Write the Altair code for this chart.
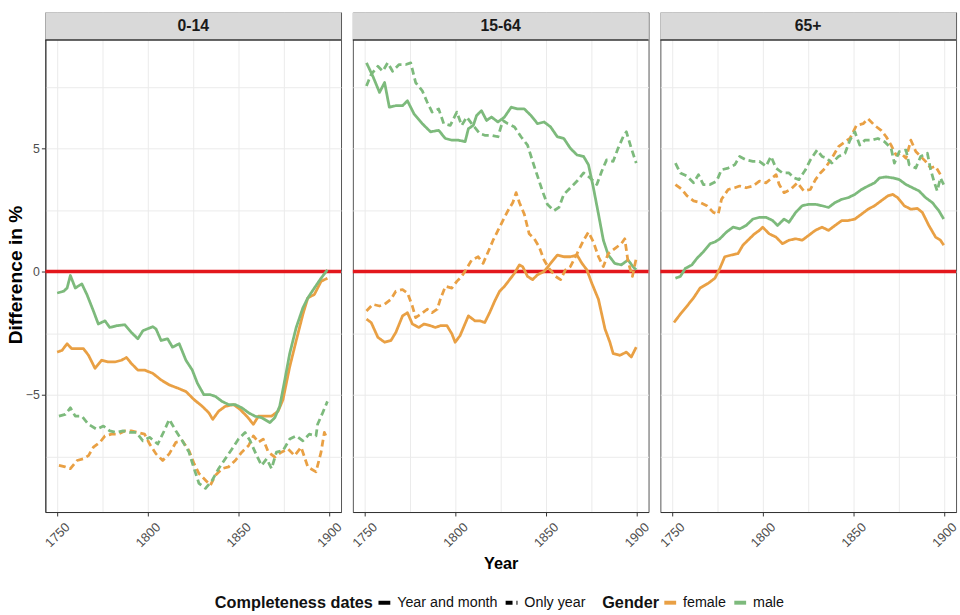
import altair as alt
import pandas as pd

# ---------------- data ----------------
PANELS = ["0-14", "15-64", "65+"]
GENDERS = ["female", "male"]
COMPLETENESS = ["Year and month", "Only year"]

# 0-14
P1_FEMALE_YM = [(1750,-3.27),(1752.7,-3.2),(1755.5,-2.93),(1758,-3.13),(1761.8,-3.13),(1764.5,-3.13),(1767.3,-3.4),(1770.9,-3.93),(1774.5,-3.6),(1778.2,-3.67),(1781.8,-3.67),(1785.5,-3.6),(1788.2,-3.49),(1790.9,-3.73),(1794.5,-4.0),(1798.2,-4.0),(1802.7,-4.13),(1807.3,-4.4),(1811.8,-4.6),(1816.4,-4.73),(1821,-4.87),(1825.5,-5.2),(1830,-5.47),(1833.6,-5.73),(1835.8,-6.0),(1839,-5.67),(1842.7,-5.47),(1847.3,-5.4),(1850.9,-5.6),(1854.5,-5.87),(1858.2,-6.2),(1861,-5.87),(1864.5,-5.87),(1868.2,-5.87),(1871.8,-5.67),(1874.5,-5.2),(1878.2,-3.87),(1881.8,-2.8),(1885.5,-1.73),(1888.2,-1.07),(1891.8,-0.93),(1895.5,-0.4),(1899,-0.27)]
P1_MALE_YM = [(1750,-0.87),(1753.6,-0.8),(1755.5,-0.67),(1757.3,-0.16),(1760,-0.67),(1763.6,-0.5),(1766.4,-0.93),(1770,-1.6),(1772.7,-2.13),(1776.4,-2.0),(1779,-2.27),(1782.7,-2.2),(1787.3,-2.16),(1790.9,-2.47),(1794.5,-2.73),(1797.3,-2.4),(1802.7,-2.24),(1804.5,-2.33),(1807.3,-2.8),(1810.9,-2.73),(1813.6,-3.07),(1817.3,-2.93),(1821,-3.6),(1824.5,-4.0),(1827.3,-4.53),(1830.9,-5.0),(1834.5,-5.0),(1837.3,-5.07),(1840.9,-5.27),(1844.5,-5.4),(1848.2,-5.4),(1851.8,-5.53),(1855.5,-5.73),(1859,-5.87),(1862.7,-5.93),(1867.3,-6.13),(1870,-5.93),(1872.7,-5.47),(1875.5,-4.4),(1878.2,-3.33),(1881.8,-2.27),(1885.5,-1.47),(1888.2,-1.07),(1891.8,-0.67),(1895.5,-0.27),(1899,0.07)]
P1_FEMALE_Y = [(1751,-7.87),(1754.5,-7.93),(1757.3,-8.0),(1761,-7.67),(1764.5,-7.6),(1767.3,-7.47),(1770,-7.13),(1773.6,-6.93),(1776.4,-6.67),(1780,-6.6),(1783.6,-6.6),(1787.3,-6.47),(1790.9,-6.47),(1794.5,-6.53),(1798.2,-6.6),(1801,-7.0),(1804.5,-7.4),(1808.2,-7.67),(1811.8,-7.4),(1815.5,-6.93),(1819,-6.87),(1822.7,-7.27),(1825.5,-7.8),(1828.2,-8.2),(1831.8,-8.47),(1834.5,-8.67),(1837.3,-8.27),(1840.9,-8.0),(1844.5,-7.93),(1848.2,-7.67),(1851.8,-7.33),(1855.5,-7.07),(1858.2,-6.67),(1861,-6.93),(1863.6,-6.8),(1866.4,-7.33),(1870,-7.53),(1873.6,-7.33),(1877.3,-7.2),(1880.9,-7.47),(1884.5,-7.13),(1888.2,-7.93),(1892.7,-8.13),(1895.5,-7.33),(1897.3,-6.53),(1899,-6.8)]
P1_MALE_Y = [(1751,-5.87),(1754.5,-5.8),(1757.3,-5.53),(1760,-5.87),(1763.6,-5.87),(1767.3,-6.2),(1771.8,-6.4),(1775.5,-6.27),(1779,-6.47),(1782.7,-6.53),(1786.4,-6.47),(1790,-6.53),(1793.6,-6.53),(1797.3,-6.87),(1801,-6.73),(1805.5,-7.0),(1809,-6.47),(1811.8,-6.0),(1815.5,-6.47),(1819,-6.87),(1822.7,-7.33),(1825.5,-8.0),(1828.2,-8.6),(1831.8,-8.8),(1835.5,-8.47),(1839,-8.0),(1842.7,-7.6),(1846.4,-7.2),(1850,-6.8),(1853.6,-6.53),(1856.4,-6.87),(1860,-7.47),(1862.7,-7.87),(1865.5,-7.6),(1868.2,-8.0),(1870.9,-7.33),(1874.5,-7.27),(1878.2,-6.8),(1881.8,-6.67),(1885.5,-6.87),(1889,-6.6),(1892.7,-6.67),(1893.6,-6.2),(1896.4,-5.73),(1899,-5.27)]

# 15-64
P2_FEMALE_YM = [(1751,-1.93),(1753.6,-2.07),(1757.3,-2.67),(1761,-2.87),(1764.5,-2.8),(1767.2,-2.47),(1770.9,-1.8),(1773.6,-1.67),(1776.3,-2.13),(1779.9,-2.27),(1782.7,-2.13),(1786.3,-2.2),(1789,-2.27),(1791.7,-2.2),(1795.4,-2.2),(1798.1,-2.53),(1799.9,-2.87),(1802.6,-2.6),(1807.2,-1.8),(1810.8,-2.0),(1813.5,-2.0),(1816.2,-2.07),(1818.9,-1.67),(1821.7,-1.2),(1824.4,-0.8),(1827.1,-0.6),(1829.9,-0.33),(1832.6,-0.07),(1835.3,0.27),(1837.1,0.2),(1839.8,-0.2),(1842.6,-0.33),(1845.3,-0.13),(1848.9,0.0),(1852.5,0.33),(1856.2,0.67),(1859.8,0.6),(1863.4,0.6),(1867.1,0.67),(1869.8,0.33),(1872.5,0.07),(1875.2,-0.47),(1878.9,-1.13),(1882.5,-2.33),(1885.2,-2.87),(1887,-3.33),(1890.7,-3.4),(1894.3,-3.27),(1897,-3.47),(1899.7,-3.07)]
P2_MALE_YM = [(1751,8.47),(1754.5,7.93),(1758.2,7.27),(1761,7.67),(1763.6,6.67),(1767.2,6.73),(1770.9,6.73),(1773.6,6.93),(1777.2,6.4),(1781.8,6.0),(1786.3,5.67),(1790.8,5.73),(1794.5,5.4),(1798.1,5.33),(1801.7,5.33),(1805.4,5.27),(1807.2,5.8),(1809.9,5.93),(1811.7,6.33),(1814.4,6.53),(1817.2,6.13),(1819.9,6.27),(1823.5,6.07),(1827.1,6.27),(1830.8,6.67),(1834.4,6.6),(1838,6.6),(1841.7,6.33),(1845.3,6.0),(1848.9,6.07),(1852.5,5.87),(1856.2,5.47),(1859.8,5.4),(1863.4,5.0),(1867.1,4.73),(1870.7,4.67),(1873.4,4.33),(1876.1,3.4),(1878.9,2.33),(1881.6,1.27),(1884.3,0.67),(1887.9,0.33),(1891.5,0.27),(1895.2,0.47),(1897.9,0.2),(1899.7,0.07)]
P2_FEMALE_Y = [(1751,-1.6),(1754.5,-1.33),(1758.2,-1.4),(1761,-1.33),(1764.5,-1.13),(1767.2,-0.8),(1770.9,-0.73),(1773.6,-0.87),(1776.3,-1.4),(1778.1,-1.87),(1780.9,-1.73),(1784.5,-1.53),(1787.2,-1.67),(1790,-1.53),(1791.7,-1.13),(1794.5,-0.6),(1798.1,-0.67),(1800.8,-0.4),(1803.5,-0.2),(1806.3,0.13),(1809,0.47),(1812.6,0.6),(1815.3,0.33),(1818.1,0.8),(1820.8,1.27),(1823.5,1.67),(1826.2,2.07),(1829,2.47),(1831.7,2.8),(1833.5,3.2),(1835.3,2.8),(1838,2.33),(1840.7,1.53),(1843.5,1.33),(1846.2,1.0),(1848.9,0.47),(1851.6,0.13),(1855.3,-0.2),(1858,-0.33),(1860.7,0.07),(1863.4,0.2),(1867.1,0.73),(1870.7,1.27),(1873.4,1.6),(1876.1,1.2),(1878.9,0.6),(1881.6,0.2),(1884.3,0.73),(1887.9,0.93),(1891.5,1.13),(1893.4,1.33),(1895.2,0.4),(1897.6,-0.2),(1899.7,0.53)]
P2_MALE_Y = [(1751,7.53),(1753.6,8.0),(1757.3,8.33),(1760,8.13),(1762.7,8.47),(1765.4,8.13),(1769,8.4),(1772.7,8.4),(1775.4,8.47),(1778.1,7.67),(1781.8,7.33),(1784.5,6.87),(1787.2,6.47),(1790.8,6.6),(1793.6,6.0),(1797.2,5.93),(1800.8,6.47),(1803.5,5.93),(1806.3,6.27),(1809,6.0),(1813.5,5.6),(1816.2,5.53),(1819.9,5.53),(1823.5,5.47),(1826.2,6.13),(1828.9,6.0),(1832.6,5.87),(1836.2,5.47),(1839.8,5.13),(1842.6,4.47),(1845.3,3.87),(1848,3.27),(1850.7,2.73),(1854.4,2.47),(1857.1,2.6),(1859.8,3.13),(1863.4,3.4),(1867.1,3.67),(1870.7,4.0),(1874.3,3.8),(1878,3.53),(1880.7,4.07),(1883.4,4.53),(1887,4.47),(1889.7,5.0),(1892.5,5.47),(1894.3,5.67),(1897,5.0),(1899.7,4.4)]

# 65+
P3_FEMALE_YM = [(1751,-2.07),(1754.5,-1.73),(1758.2,-1.4),(1761.8,-1.07),(1765.4,-0.67),(1770,-0.47),(1773.6,-0.27),(1776.3,0.13),(1779,0.6),(1782.7,0.67),(1786.3,0.73),(1789,1.07),(1792.6,1.33),(1795.4,1.53),(1798.1,1.67),(1799.9,1.8),(1803.5,1.53),(1807.2,1.4),(1810.8,1.13),(1814.4,1.27),(1818.1,1.33),(1821.7,1.27),(1825.3,1.47),(1828.9,1.67),(1832.6,1.8),(1836.2,1.67),(1839.8,1.87),(1843.5,2.07),(1847.1,2.07),(1850.7,2.13),(1854.4,2.33),(1858,2.53),(1861.6,2.67),(1865.2,2.87),(1868.9,3.07),(1871.6,3.13),(1874.3,3.0),(1877.9,2.67),(1881.6,2.53),(1885.2,2.56),(1887.9,2.4),(1891.5,1.87),(1895.2,1.4),(1897.9,1.27),(1899.7,1.07)]
P3_MALE_YM = [(1751.8,-0.27),(1754.5,-0.2),(1757.3,0.13),(1760.9,0.27),(1763.6,0.53),(1767.2,0.8),(1770.9,1.13),(1773.6,1.2),(1776.3,1.33),(1779.9,1.6),(1783.6,1.8),(1787.2,1.73),(1790.8,1.87),(1794.5,2.13),(1798.1,2.2),(1801.7,2.2),(1805.4,2.07),(1808.1,1.87),(1811.7,2.13),(1814.4,2.0),(1818.1,2.4),(1821.7,2.67),(1825.3,2.73),(1828.9,2.73),(1832.6,2.67),(1836.2,2.6),(1839.8,2.8),(1843.5,2.93),(1847.1,3.0),(1850.7,3.13),(1854.4,3.33),(1858,3.47),(1861.6,3.6),(1864.3,3.8),(1867.9,3.84),(1871.6,3.8),(1875.2,3.73),(1878.9,3.53),(1882.5,3.4),(1886.1,3.27),(1889.7,3.0),(1893.4,2.8),(1897,2.47),(1899.7,2.13)]
P3_FEMALE_Y = [(1751.8,3.53),(1755.4,3.33),(1758.2,3.07),(1761.8,2.87),(1765.4,2.8),(1769.1,2.67),(1772.7,2.4),(1775.4,2.33),(1777.2,2.93),(1780.9,3.33),(1784.5,3.4),(1787.2,3.47),(1790.8,3.4),(1794.5,3.47),(1798.1,3.67),(1801.7,3.6),(1807.3,3.93),(1809,3.53),(1811.7,3.2),(1815.3,3.33),(1819,3.6),(1822.6,3.27),(1826.2,3.33),(1829,3.73),(1831.7,4.0),(1834.4,4.2),(1838,4.6),(1841.7,5.07),(1845.3,5.27),(1848,5.4),(1851.6,5.93),(1855.3,6.0),(1858,6.2),(1861.6,5.93),(1865.2,5.73),(1868,5.47),(1870.7,5.13),(1873.4,4.73),(1876.1,4.8),(1878.9,4.6),(1881.6,5.33),(1884.3,4.87),(1887,4.67),(1889.7,4.47),(1892.5,4.2),(1895.2,4.27),(1897.9,3.93),(1899.7,3.93)]
P3_MALE_Y = [(1751.8,4.4),(1754.5,4.0),(1758.2,3.87),(1761.8,3.6),(1764.5,3.93),(1767.2,3.53),(1770.9,3.53),(1774.5,3.67),(1777.2,4.13),(1780.9,4.2),(1784.5,4.33),(1787.2,4.67),(1790.8,4.53),(1794.5,4.47),(1798.1,4.47),(1801.7,4.27),(1804.5,4.67),(1807.2,4.2),(1810.8,4.0),(1814.4,4.0),(1817.2,3.8),(1819.9,3.73),(1823.5,4.13),(1826.2,4.53),(1829.9,4.93),(1832.6,4.67),(1835.3,4.6),(1838,4.4),(1841.7,4.67),(1845.3,4.8),(1848,5.33),(1850.7,5.67),(1853.4,5.13),(1856.2,5.33),(1859.8,5.33),(1863.4,5.4),(1867.1,5.27),(1870.7,5.0),(1872.5,4.4),(1875.2,4.87),(1878.9,4.93),(1880.7,4.33),(1884.3,4.2),(1887,4.67),(1890.7,4.8),(1892.5,4.13),(1894.3,3.67),(1896.1,3.27),(1897.9,3.8),(1899.7,3.53)]

SERIES = {
    "0-14": {("female", "Year and month"): P1_FEMALE_YM, ("male", "Year and month"): P1_MALE_YM,
             ("female", "Only year"): P1_FEMALE_Y, ("male", "Only year"): P1_MALE_Y},
    "15-64": {("female", "Year and month"): P2_FEMALE_YM, ("male", "Year and month"): P2_MALE_YM,
              ("female", "Only year"): P2_FEMALE_Y, ("male", "Only year"): P2_MALE_Y},
    "65+": {("female", "Year and month"): P3_FEMALE_YM, ("male", "Year and month"): P3_MALE_YM,
            ("female", "Only year"): P3_FEMALE_Y, ("male", "Only year"): P3_MALE_Y},
}

X_TICKS = [1750, 1775, 1800, 1825, 1850, 1875, 1900]
Y_TICKS = [-7.5, -5, -2.5, 0, 2.5, 5, 7.5]
REFERENCE_LINE = [0]

# ---------------- styling ----------------
ORANGE = "#E9A044"
GREEN = "#7DBA7C"
RED = "#E3171C"
SANS = "Liberation Sans, Arial, sans-serif"

W = 300
H = 507
STRIP = 28
X_DOMAIN = [1743.5, 1906.5]
Y_DOMAIN = [-9.76, 10.52]

legend_common = dict(
    orient="none", direction="horizontal", titleOrient="left", gridAlign="none",
    symbolType="stroke", symbolStrokeWidth=4, symbolSize=144,
    labelFont=SANS, labelFontSize=14.5, labelColor="#111", titleFont=SANS,
    titleFontSize=16.5, titleFontWeight="bold", titleColor="#111",
    columnPadding=0, titlePadding=3, labelOffset=5,
)
color_legend = alt.Legend(title="Gender", legendX=565, legendY=591, **legend_common)
dash_legend = alt.Legend(title="Completeness dates", legendX=172, legendY=591,
                         symbolStrokeColor="#000", **legend_common)

tick_cond_x = {"condition": {"test": "datum.value % 50 === 0", "value": "#333333"}, "value": "transparent"}
tick_cond_y = {"condition": {"test": "datum.value % 5 === 0", "value": "#333333"}, "value": "transparent"}


def panel(name, first, middle):
    rows = []
    for (g, c), pts in SERIES[name].items():
        for yr, v in pts:
            rows.append({"year": yr, "value": v, "gender": g, "completeness": c})
    df = pd.DataFrame(rows)

    x_axis = alt.Axis(
        values=X_TICKS, format="d",
        labelExpr="datum.value % 50 === 0 ? datum.label : ''",
        tickColor=tick_cond_x, tickSize=4, tickWidth=1,
        labelAngle=315, labelAlign="center", labelBaseline="middle", labelPadding=19,
        labelFlush=False, labelFont=SANS, labelFontSize=13, labelColor="#4D4D4D",
        gridColor="#EBEBEB", gridWidth=1, domainColor="#333333", domainWidth=1,
        title="Year" if middle else None, titleFont=SANS, titleFontSize=16.5,
        titleFontWeight="bold", titleColor="#000", titlePadding=6,
    )
    if first:
        y_axis = alt.Axis(
            values=Y_TICKS, labelExpr="datum.value % 5 === 0 ? datum.label : ''",
            tickColor=tick_cond_y, tickSize=4, labelPadding=2,
            labelFont=SANS, labelFontSize=12.5, labelColor="#4D4D4D",
            gridColor="#EBEBEB", gridWidth=1, domainColor="#333333",
            title="Difference in %", titleFont=SANS, titleFontSize=19.5,
            titleFontWeight="bold", titleColor="#000", titlePadding=0, titleY=266,
        )
    else:
        y_axis = alt.Axis(
            values=Y_TICKS, labels=False, ticks=False, domain=False,
            gridColor="#EBEBEB", gridWidth=1, title=None,
        )

    x_enc = alt.X("year:Q", scale=alt.Scale(domain=X_DOMAIN, nice=False, zero=False), axis=x_axis)
    y_enc = alt.Y("value:Q", scale=alt.Scale(domain=Y_DOMAIN, nice=False, zero=False), axis=y_axis)

    ref = alt.Chart(pd.DataFrame({"value": REFERENCE_LINE})).mark_rule(
        color=RED, strokeWidth=3.5
    ).encode(y=y_enc)

    lines = alt.Chart(df).mark_line(strokeWidth=2.8, strokeJoin="round").encode(
        x=x_enc, y=y_enc,
        color=alt.Color("gender:N", scale=alt.Scale(domain=GENDERS, range=[ORANGE, GREEN]), legend=color_legend),
        strokeDash=alt.StrokeDash("completeness:N",
                                  scale=alt.Scale(domain=COMPLETENESS, range=[[1, 0], [7, 4]]),
                                  legend=dash_legend),
        detail="completeness:N",
    )

    strip_data = alt.Data(values=[{"panel": name}])
    strip_bg = alt.Chart(strip_data).mark_rect(color="#D9D9D9").encode(
        x=alt.value(0), x2=alt.value(W), y=alt.value(0), y2=alt.value(STRIP)
    )
    strip_line = alt.Chart(strip_data).mark_rule(color="#333333", strokeWidth=1.5).encode(
        x=alt.value(0), x2=alt.value(W), y=alt.value(STRIP)
    )
    strip_text = alt.Chart(strip_data).mark_text(
        font=SANS, fontSize=16, fontWeight="bold", color="#1A1A1A", baseline="middle", align="center"
    ).encode(x=alt.value(W / 2), y=alt.value(STRIP / 2), text="panel:N")

    return alt.layer(ref, lines, strip_bg, strip_line, strip_text).properties(width=W, height=H)


chart = alt.hconcat(
    panel("0-14", True, False),
    panel("15-64", False, True),
    panel("65+", False, False),
    spacing=4,
).properties(
    padding={"left": 5, "top": 7, "right": 0, "bottom": 0},
    background="white",
).configure_view(
    stroke="#555555", strokeWidth=1
)

chart.save("out.html", embed_options={"renderer": "svg", "actions": False})
